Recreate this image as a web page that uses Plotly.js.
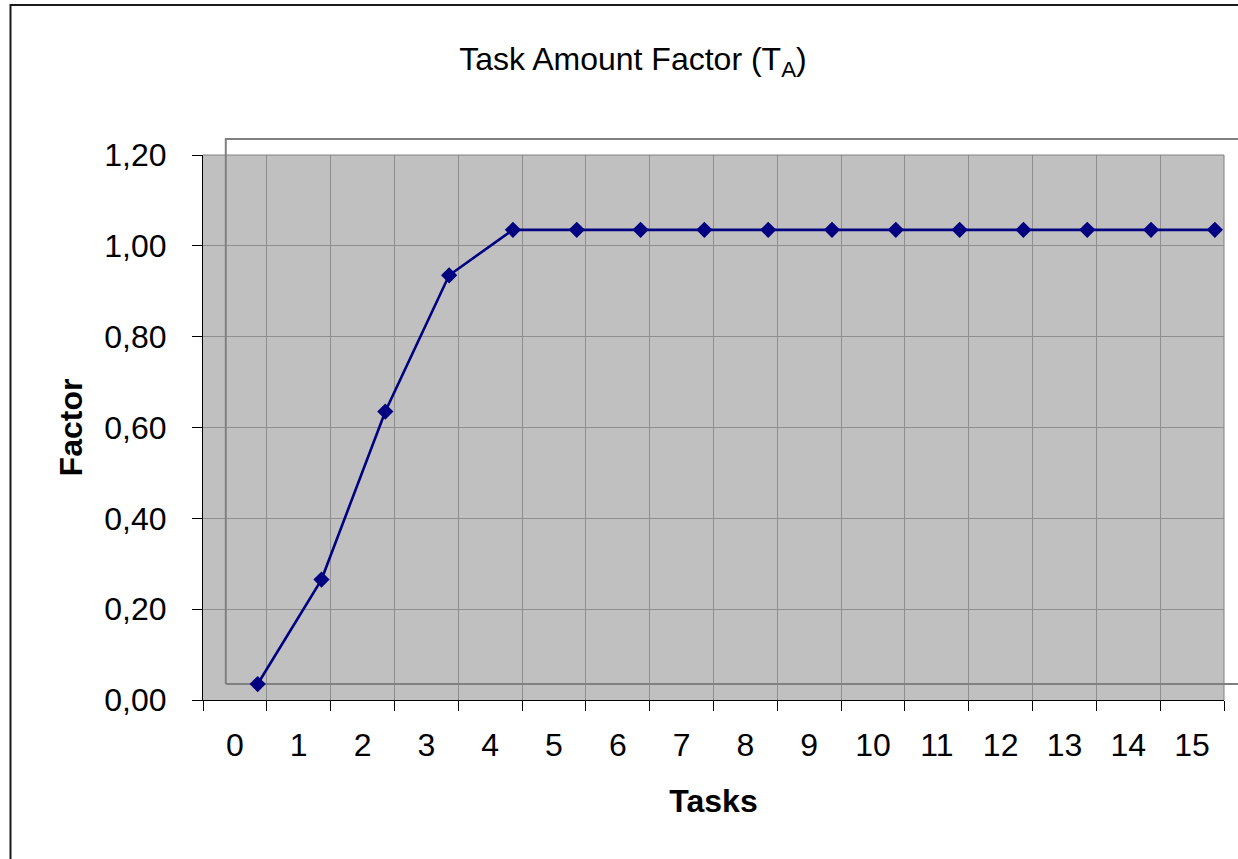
<!DOCTYPE html>
<html>
<head>
<meta charset="utf-8">
<script src="https://cdn.plot.ly/plotly-3.0.1.min.js"></script>
<style>html,body{margin:0;padding:0;background:#fff;}#chart{width:1238px;height:859px;}</style>
</head>
<body>
<div id="chart"></div>
<script>
// ---- data ----
const taskLabels = ['0','1','2','3','4','5','6','7','8','9','10','11','12','13','14','15'];
const factorValues = [0.00, 0.23, 0.60, 0.90, 1.00, 1.00, 1.00, 1.00, 1.00, 1.00, 1.00, 1.00, 1.00, 1.00, 1.00, 1.00];
const chartTitle = 'Task Amount Factor (T<sub>A</sub>)';
const xTitle = 'Tasks';
const yTitle = 'Factor';

// ---- layout constants ----
const W = 1238, H = 859;
const M = {l: 203, r: 14, t: 155, b: 159};
const nCat = taskLabels.length;
const yMax = 1.2;
// the series' plot area is offset from the gridded one (as in the original)
const x2Start = -0.857;      // category offset of the shifted plot area
const y2Start = -0.0352;     // value offset of the shifted plot area
const x2Range = [x2Start, x2Start + nCat];
const y2Range = [y2Start, y2Start + yMax];

const font = 'Liberation Sans, Arial, sans-serif';
const navy = '#000080';
const gridCol = '#8f8f8f';
const borderCol = '#808080';

// shifted-area edges in primary coordinates
const rectLeftCat = -0.5 - x2Start - 0.5;
const rectBottomVal = -y2Start;
const rectTopVal = yMax - y2Start;
const pxX = c => (c + 0.5) / nCat;
const pxY = v => v / yMax;
const plotW = W - M.l - M.r, plotH = H - M.t - M.b;
const frameX = (10.5 - M.l) / plotW, frameY = (H - M.b - 5) / plotH;

const trace = {
  x: taskLabels, y: factorValues,
  xaxis: 'x2', yaxis: 'y2',
  type: 'scatter', mode: 'lines+markers',
  line: {color: navy, width: 2.6},
  marker: {symbol: 'diamond', size: 12.5, color: navy},
  hoverinfo: 'x+y', showlegend: false
};

const layout = {
  width: W, height: H,
  margin: M,
  paper_bgcolor: '#ffffff',
  plot_bgcolor: '#c0c0c0',
  separators: ',.',
  font: {family: font, color: '#000', size: 32},
  showlegend: false,
  title: {
    text: chartTitle, font: {family: font, size: 32, color: '#000'},
    xref: 'container', yref: 'container', x: 633 / W, y: 1 - 59 / H,
    xanchor: 'center', yanchor: 'middle'
  },
  xaxis: {
    type: 'category', categoryorder: 'array', categoryarray: taskLabels,
    range: [-0.5, nCat - 0.5], fixedrange: true,
    tickson: 'boundaries', ticks: 'outside', ticklen: 10, tickcolor: '#000', tickwidth: 1,
    ticklabelstandoff: 17,
    showline: true, linecolor: '#000', linewidth: 1,
    showgrid: true, gridcolor: gridCol, gridwidth: 1, zeroline: false,
    tickfont: {family: font, size: 32, color: '#000'},
    title: {text: xTitle, font: {family: font, size: 32, color: '#000', weight: 'bold'}, standoff: 27},
    automargin: false
  },
  yaxis: {
    range: [0, yMax], dtick: 0.2, tick0: 0, tickformat: '.2f', fixedrange: true,
    ticks: 'outside', ticklen: 10, tickcolor: '#000', tickwidth: 1,
    ticklabelstandoff: 19,
    showline: true, linecolor: '#000', linewidth: 1,
    showgrid: true, gridcolor: gridCol, gridwidth: 1, zeroline: false,
    tickfont: {family: font, size: 32, color: '#000'},
    title: {text: yTitle, font: {family: font, size: 32, color: '#000', weight: 'bold'}, standoff: 12},
    automargin: false
  },
  xaxis2: {
    type: 'category', overlaying: 'x', anchor: 'y2', range: x2Range,
    visible: false, fixedrange: true
  },
  yaxis2: {
    overlaying: 'y', anchor: 'x2', range: y2Range,
    visible: false, fixedrange: true
  },
  shapes: [
    {type: 'line', xref: 'x', yref: 'y', layer: 'between',
     x0: rectLeftCat, x1: rectLeftCat, y0: rectBottomVal, y1: rectTopVal,
     line: {color: borderCol, width: 2}},
    {type: 'line', xref: 'x', yref: 'y', layer: 'between',
     x0: rectLeftCat, x1: nCat + 1, y0: rectBottomVal, y1: rectBottomVal,
     line: {color: borderCol, width: 2}},
    {type: 'path', xref: 'paper', yref: 'paper', layer: 'above',
     path: `M ${pxX(rectLeftCat)},1 L ${pxX(rectLeftCat)},${pxY(rectTopVal)} L 1.2,${pxY(rectTopVal)}`,
     line: {color: borderCol, width: 2}},
    {type: 'line', xref: 'paper', yref: 'paper', layer: 'above',
     x0: 1, x1: 1.2, y0: pxY(rectBottomVal), y1: pxY(rectBottomVal),
     line: {color: borderCol, width: 2}},
    {type: 'path', xref: 'paper', yref: 'paper', layer: 'above',
     path: 'M 0,1 L 1,1 L 1,0', line: {color: borderCol, width: 1}},
    {type: 'path', xref: 'paper', yref: 'paper', layer: 'above',
     path: `M ${frameX},-0.6 L ${frameX},${frameY} L 1.3,${frameY}`,
     line: {color: '#1a1a1a', width: 2}}
  ]
};

Plotly.newPlot('chart', [trace], layout, {displayModeBar: false, staticPlot: true});
</script>
</body>
</html>
